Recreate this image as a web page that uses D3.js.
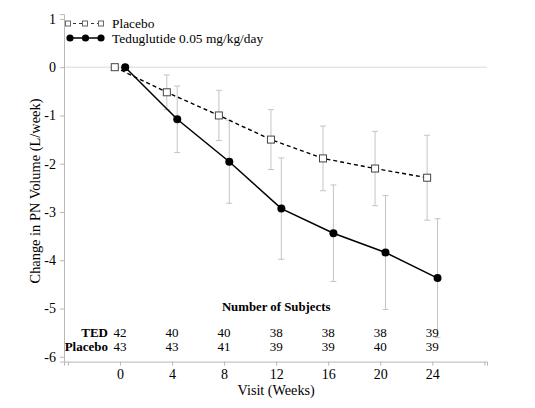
<!DOCTYPE html>
<html><head><meta charset="utf-8">
<script src="https://cdn.jsdelivr.net/npm/d3@7"></script>
<style>body{margin:0;background:#fff}svg{display:block}text{font-family:"Liberation Serif","Times New Roman",serif}</style>
</head><body>
<svg id="c" width="535" height="408"></svg>
<script>
const weeks = [0, 4, 8, 12, 16, 20, 24];
const placeboMean = [0, -0.52, -1.0, -1.5, -1.89, -2.1, -2.29];
const placeboErr = [0, 0.36, 0.52, 0.62, 0.67, 0.77, 0.88];
const tedMean = [0, -1.08, -1.96, -2.93, -3.44, -3.84, -4.37];
const tedErr = [0, 0.69, 0.86, 1.05, 1.0, 1.18, 1.23];
const tedN = [42, 40, 40, 38, 38, 38, 39];
const placeboN = [43, 43, 41, 39, 39, 40, 39];
const yTicks = [1, 0, -1, -2, -3, -4, -5, -6];
const xTicks = [-4, 0, 4, 8, 12, 16, 20, 24, 28];
const xLabels = [0, 4, 8, 12, 16, 20, 24];

const svg = d3.select("#c");
const x = d3.scaleLinear().domain([-4.3, 28.2]).range([64, 487]);
const y = d3.scaleLinear().domain([-6.1, 1.1]).range([361.6, 14.1]);
const axisCol = "#b8b8b8", barCol = "#c4c4c4";
const serif = '"Liberation Serif","Times New Roman",serif';

// gridline at 0
svg.append("line").attr("x1", x(-4.3)).attr("x2", x(28.2)).attr("y1", y(0)).attr("y2", y(0))
  .attr("stroke", "#d9d9d9").attr("stroke-width", 1);

// y axis
const ya = svg.append("g").attr("transform", `translate(${x(-4.3)},0)`)
  .call(d3.axisLeft(y).tickValues(yTicks).tickSize(4).tickPadding(4).tickFormat(d => d < 0 ? "-" + Math.abs(d) : String(d)));
ya.select(".domain").attr("stroke", axisCol);
ya.selectAll(".tick line").attr("stroke", axisCol);
ya.selectAll("text").attr("font-size", 14).attr("fill", "#000").style("font-family", serif);

// x axis
const xa = svg.append("g").attr("transform", `translate(0,${y(-6.1)})`)
  .call(d3.axisBottom(x).tickValues(xTicks).tickSize(4).tickPadding(3)
    .tickFormat(d => xLabels.includes(d) ? d : ""));
xa.select(".domain").attr("stroke", axisCol);
xa.selectAll(".tick line").attr("stroke", axisCol);
xa.selectAll("text").attr("font-size", 14).attr("fill", "#000").style("font-family", serif);

// axis titles
svg.append("text").attr("transform", `translate(40,191) rotate(-90)`).attr("text-anchor", "middle")
  .attr("font-size", 14.4).text("Change in PN Volume (L/week)");
svg.append("text").attr("x", x(12)).attr("y", 395).attr("text-anchor", "middle")
  .attr("font-size", 14.2).text("Visit (Weeks)");

const offP = -0.4, offT = 0.4;
function errbars(mean, err, off) {
  weeks.forEach((w, i) => {
    if (err[i] <= 0) return;
    const cx = x(w + off);
    const g = svg.append("g").attr("stroke", barCol).attr("stroke-width", 1);
    g.append("line").attr("x1", cx).attr("x2", cx).attr("y1", y(mean[i] + err[i])).attr("y2", y(mean[i] - err[i]));
    [mean[i] + err[i], mean[i] - err[i]].forEach(v =>
      g.append("line").attr("x1", cx - 3).attr("x2", cx + 3).attr("y1", y(v)).attr("y2", y(v)));
  });
}
errbars(placeboMean, placeboErr, offP);
errbars(tedMean, tedErr, offT);

const line = off => d3.line().x((d, i) => x(weeks[i] + off)).y(d => y(d));
svg.append("path").datum(placeboMean).attr("d", line(offP)).attr("fill", "none")
  .attr("stroke", "#000").attr("stroke-width", 1.4).attr("stroke-dasharray", "4,3");
svg.append("path").datum(tedMean).attr("d", line(offT)).attr("fill", "none")
  .attr("stroke", "#000").attr("stroke-width", 1.5);

svg.selectAll(".psq").data(placeboMean).join("rect")
  .attr("x", (d, i) => x(weeks[i] + offP) - 3.5).attr("y", d => y(d) - 3.5)
  .attr("width", 7).attr("height", 7).attr("fill", "#fff").attr("stroke", "#444").attr("stroke-width", 1);
svg.selectAll(".tci").data(tedMean).join("circle")
  .attr("cx", (d, i) => x(weeks[i] + offT)).attr("cy", d => y(d)).attr("r", 4).attr("fill", "#000");

// legend
const lg = svg.append("g");
lg.append("line").attr("x1", 67).attr("x2", 102).attr("y1", 23.5).attr("y2", 23.5)
  .attr("stroke", "#333").attr("stroke-width", 1).attr("stroke-dasharray", "3,3");
[68, 85, 101].forEach(cx => lg.append("rect").attr("x", cx - 2.5).attr("y", 21).attr("width", 5).attr("height", 5)
  .attr("fill", "#fff").attr("stroke", "#666"));
lg.append("text").attr("x", 112).attr("y", 28).attr("font-size", 13.4).text("Placebo");
lg.append("line").attr("x1", 70).attr("x2", 101).attr("y1", 38).attr("y2", 38)
  .attr("stroke", "#000").attr("stroke-width", 1.5);
[70, 85.5, 101].forEach(cx => lg.append("circle").attr("cx", cx).attr("cy", 38).attr("r", 3.6).attr("fill", "#000"));
lg.append("text").attr("x", 112).attr("y", 42.5).attr("font-size", 13.4).text("Teduglutide 0.05 mg/kg/day");

// number of subjects table
svg.append("text").attr("x", x(12)).attr("y", 311).attr("text-anchor", "middle")
  .attr("font-size", 12.8).attr("font-weight", "bold").text("Number of Subjects");
svg.append("text").attr("x", 108).attr("y", 336.5).attr("text-anchor", "end")
  .attr("font-size", 13).attr("font-weight", "bold").text("TED");
svg.append("text").attr("x", 108).attr("y", 350.5).attr("text-anchor", "end")
  .attr("font-size", 13).attr("font-weight", "bold").text("Placebo");
svg.selectAll(".nt").data(tedN).join("text").attr("x", (d, i) => x(weeks[i])).attr("y", 336.5)
  .attr("text-anchor", "middle").attr("font-size", 13).text(d => d);
svg.selectAll(".np").data(placeboN).join("text").attr("x", (d, i) => x(weeks[i])).attr("y", 350.5)
  .attr("text-anchor", "middle").attr("font-size", 13).text(d => d);
</script>
</body></html>
